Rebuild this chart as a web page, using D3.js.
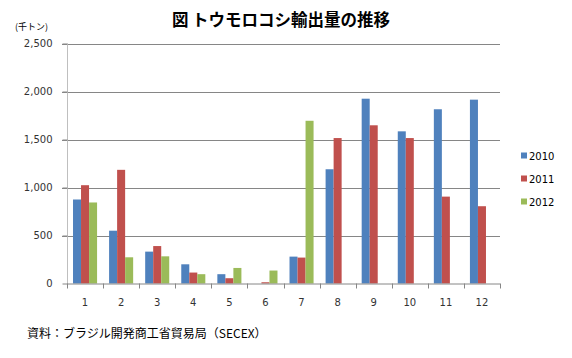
<!DOCTYPE html>
<html><head><meta charset="utf-8">
<script src="https://cdn.jsdelivr.net/npm/d3@7/dist/d3.min.js"></script>
<style>
html,body{margin:0;padding:0;background:#fff;}
svg{display:block;}
</style>
</head><body>
<svg id="chart" width="572" height="358"></svg>
<script>
const months = ["1","2","3","4","5","6","7","8","9","10","11","12"];
const seriesNames = ["2010","2011","2012"];
const v2010 = [875, 550, 332, 200, 97, 0, 280, 1190, 1925, 1585, 1815, 1915];
const v2011 = [1024, 1184, 390, 114, 55, 13, 270, 1515, 1648, 1515, 905, 805];
const v2012 = [844, 273, 283, 97, 162, 135, 1695, null, null, null, null, null];
const yTicks = [0, 500, 1000, 1500, 2000, 2500];
const colors = ["#4F81BD", "#C0504D", "#9BBB59"];
const titleText = "図 トウモロコシ輸出量の推移";
const unitText = "(千トン)";
const sourceText = "資料：ブラジル開発商工省貿易局（SECEX）";

(function () {
const allSeries = [v2010, v2011, v2012];
const svg = d3.select("#chart");
const jp = "'Noto Sans CJK JP', 'Noto Sans', sans-serif";
const num = "'DejaVu Sans', Verdana, sans-serif";

const pL = 67, pR = 500, pT = 43.5, pB = 283.5;
const x = d3.scaleBand().domain(months).range([pL, pR]).padding(0);
const xs = d3.scaleBand().domain(seriesNames).range([0, x.bandwidth()]).paddingInner(0).paddingOuter(0.75);
const y = d3.scaleLinear().domain([0, 2500]).range([pB, pT]);

// gridlines
svg.append("g").selectAll("line").data(yTicks.filter(d => d > 0)).join("line")
  .attr("x1", pL - 5).attr("x2", pR)
  .attr("y1", d => Math.round(y(d)) + 0.5).attr("y2", d => Math.round(y(d)) + 0.5)
  .attr("stroke", "#868686").attr("stroke-width", 1);

// y axis
const yAxis = d3.axisLeft(y).tickValues(yTicks).tickSize(5).tickPadding(10).tickFormat(d3.format(","));
const gy = svg.append("g").attr("transform", `translate(${pL + 0.5},0)`).call(yAxis);
gy.select(".domain").attr("stroke", "#BFBFBF").attr("d", `M0,${pT}V${pB}`);
gy.selectAll(".tick line").attr("stroke", "#868686");
gy.selectAll(".tick text").attr("font-family", num).attr("font-size", 10).attr("fill", "#333");

// bars
const groups = svg.append("g").selectAll("g").data(months).join("g")
  .attr("transform", d => `translate(${x(d)},0)`);
groups.selectAll("rect").data((m, i) => seriesNames.map((s, k) => ({s, k, v: allSeries[k][i]})).filter(d => d.v != null))
  .join("rect")
  .attr("x", d => xs(d.s))
  .attr("width", xs.bandwidth())
  .attr("y", d => y(d.v))
  .attr("height", d => pB - y(d.v))
  .attr("fill", d => colors[d.k]);

// x axis
const xAxis = d3.axisBottom(x).tickSize(0).tickPadding(15);
const gx = svg.append("g").attr("transform", `translate(0,${pB})`).call(xAxis);
gx.select(".domain").attr("stroke", "#868686").attr("d", `M${pL},0.5H${pR}`);
gx.selectAll(".tick text").attr("font-family", num).attr("font-size", 10).attr("fill", "#333");
const bounds = months.map(m => x(m)).concat([pR]);
svg.append("g").selectAll("line").data(bounds).join("line")
  .attr("x1", d => Math.round(d) + 0.5).attr("x2", d => Math.round(d) + 0.5)
  .attr("y1", pB).attr("y2", pB + 5)
  .attr("stroke", "#868686");

// title
svg.append("text").attr("x", 281).attr("y", 26).attr("text-anchor", "middle")
  .attr("font-family", jp).attr("font-size", 16.5).attr("font-weight", "bold").attr("fill", "#000")
  .text(titleText);
svg.append("text").attr("x", 15).attr("y", 30).attr("font-family", jp).attr("font-size", 9).attr("fill", "#000").text(unitText);
svg.append("text").attr("x", 27).attr("y", 338).attr("font-family", jp).attr("font-size", 12).attr("fill", "#000").text(sourceText);

// legend
const lg = svg.append("g").selectAll("g").data(seriesNames).join("g")
  .attr("transform", (d, i) => `translate(521,${156 + i * 23})`);
lg.append("rect").attr("x", 0).attr("y", -3.5).attr("width", 6).attr("height", 6).attr("fill", (d, i) => colors[i]);
lg.append("text").attr("x", 8).attr("y", 0).attr("dy", "0.35em").attr("font-family", num).attr("font-size", 10).attr("fill", "#000").text(d => d);
})();
</script>
</body></html>
